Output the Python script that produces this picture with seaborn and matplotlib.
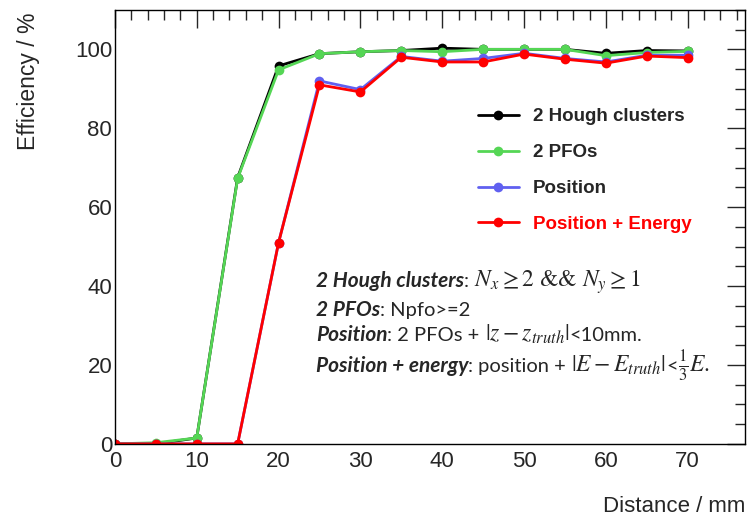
import numpy as np
import pandas as pd
import seaborn as sns
import matplotlib.pyplot as plt

# distances (mm)
distance = [0, 5, 10, 15, 20, 25, 30, 35, 40, 45, 50, 55, 60, 65, 70]

# efficiencies (%)
eff_hough = [0, 0, 1.5, 67.5, 95.8, 98.9, 99.4, 99.7, 100.3, 100.0, 100.0, 100.0, 99.0, 99.7, 99.6]
eff_pfo = [0, 0.3, 1.5, 67.3, 94.8, 98.9, 99.4, 99.7, 99.4, 100.0, 100.0, 100.0, 98.4, 99.2, 99.5]
eff_pos = [0, 0, 0, 0, 51.0, 92.0, 89.8, 98.2, 97.0, 97.7, 99.0, 97.7, 96.8, 98.5, 98.5]
eff_pos_e = [0, 0, 0, 0, 51.0, 91.0, 89.2, 98.0, 96.8, 96.8, 98.8, 97.5, 96.5, 98.3, 97.9]

series_names = ["2 Hough clusters", "2 PFOs", "Position", "Position + Energy"]
series_colors = ["#000000", "#55d655", "#6060f0", "#ff0000"]

df = pd.DataFrame({
    "distance": distance * 4,
    "eff": eff_hough + eff_pfo + eff_pos + eff_pos_e,
    "series": np.repeat(series_names, len(distance)),
})

sns.set_style("white")
plt.rcParams["font.family"] = ["Liberation Sans", "DejaVu Sans"]
plt.rcParams["mathtext.fontset"] = "stix"

fig = plt.figure(figsize=(7.51, 5.21), dpi=100)
ax = fig.add_axes([0.153, 0.148, 0.839, 0.833])

sns.lineplot(data=df, x="distance", y="eff", hue="series", hue_order=series_names,
             palette=series_colors, marker="o", markersize=7, markeredgewidth=0,
             linewidth=2, ax=ax)

ax.set_xlim(0, 77)
ax.set_ylim(0, 110)
ax.set_xlabel("")
ax.set_ylabel("")
ax.set_xticks(range(0, 71, 10))
ax.set_xticks(range(0, 77, 2), minor=True)
ax.set_yticks(range(0, 101, 20))
ax.set_yticks(range(0, 111, 5), minor=True)
ax.tick_params(which="both", direction="in", top=True, right=True, labelsize=16)
ax.tick_params(axis="x", pad=5)
ax.tick_params(axis="y", pad=2)
ax.tick_params(which="major", length=13, width=1)
ax.tick_params(which="minor", length=7, width=1)
for s in ax.spines.values():
    s.set_linewidth(1)
    s.set_color("black")

fig.text(28 / 751, 1 - 12 / 521, "Efficiency / %", rotation=90, ha="center", va="top", fontsize=16.5)
fig.text(745 / 751, 1 - 507 / 521, "Distance / mm", ha="right", va="center", fontsize=16)

leg = ax.legend(loc="upper left", bbox_to_anchor=(0.561, 0.795), frameon=False,
                prop={"family": "Liberation Sans", "weight": "bold", "size": 13.5},
                handlelength=2.2, labelspacing=1.0, borderpad=0, handletextpad=0.75)
leg.get_texts()[3].set_color("red")

# selection notes: (text, style) segments per line
bi = dict(family="Lato", weight="bold", style="italic", fontsize=15)
rm = dict(family="Lato", fontsize=14.5)
mt = dict(family="STIXGeneral", fontsize=17)
notes = [
    ([("2 Hough clusters", bi), (": ", rm), (r"$N_x \geq 2$ && $N_y \geq 1$", mt)], 0.362),
    ([("2 PFOs", bi), (": Npfo>=2", rm)], 0.295),
    ([("Position", bi), (": 2 PFOs + ", rm), (r"$|z - z_{truth}|$", mt), ("<10mm.", rm)], 0.237),
    ([("Position + energy", bi), (": position + ", rm), (r"$|E - E_{truth}|$", mt),
      ("<", rm), (r"$\frac{1}{3}E.$", mt)], 0.166),
]
renderer = fig.canvas.get_renderer()
for segs, yy in notes:
    x0 = ax.transAxes.transform((0.319, yy))[0]
    for txt, kw in segs:
        xa = ax.transAxes.inverted().transform((x0, 0))[0]
        t = ax.text(xa, yy, txt, transform=ax.transAxes, va="baseline", ha="left", **kw)
        x0 = t.get_window_extent(renderer).x1

fig.savefig("out.png", dpi=100)
